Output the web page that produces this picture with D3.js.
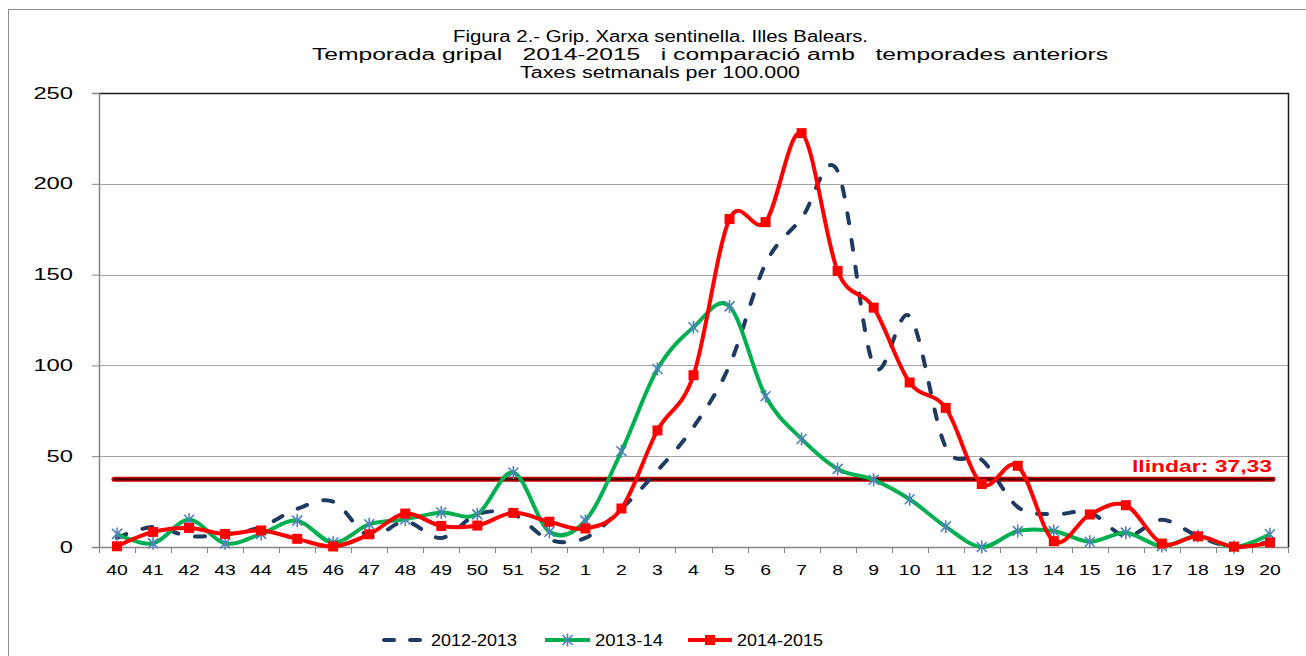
<!DOCTYPE html>
<html>
<head>
<meta charset="utf-8">
<script src="https://cdn.jsdelivr.net/npm/d3@7/dist/d3.min.js"></script>
<style>
  html, body { margin: 0; padding: 0; background: #fff; }
  svg { display: block; font-family: "Liberation Sans", Arial, sans-serif; }
</style>
</head>
<body>
<svg id="chart" width="1306" height="656"></svg>
<script>
// setmanes epidemiològiques (eix X)
const weeks = ["40","41","42","43","44","45","46","47","48","49","50","51","52",
  "1","2","3","4","5","6","7","8","9","10","11","12","13","14","15","16","17","18","19","20"];

// taxes setmanals per 100.000, llegides del gràfic
const season1213 = [5, 11, 6, 7, 11, 21, 25, 6, 14, 5, 18, 18, 4,
  5, 21, 42, 66, 100, 156, 181, 207, 100, 127, 55, 48, 22, 18, 19, 6, 15, 6, 0, 3];
const season1314 = [7.2, 2, 15, 2, 7.2, 14.5, 2.4, 12.5, 15.2, 19, 18, 41, 8.4,
  14.5, 52.7, 98, 121, 132.5, 83, 59.5, 43, 37, 26.3, 11.2, 0, 8.8, 8.8, 2.9, 7.9, 0.5, 6, 0, 7];
const season1415 = [0.4, 8.3, 10.5, 7.2, 9.1, 4.5, 0.3, 7, 18.4, 11.6, 11.8, 18.8, 13.9,
  10.2, 21.2, 64.2, 94.6, 180.6, 178.9, 227.9, 152, 131.8, 90.6, 76.6, 34.7, 44.7, 3.2, 17.9, 23, 1.9, 5.9, 0.2, 2.5];

const threshold = 37.33;
const yTicks = [0, 50, 100, 150, 200, 250];

const titleLines = [
  { text: "Figura 2.- Grip. Xarxa sentinella. Illes Balears.", x: 453, y: 42, w: 415 },
  { text: "Temporada gripal   2014-2015   i comparació amb   temporades anteriors", x: 312, y: 60, w: 796 },
  { text: "Taxes setmanals per 100.000", x: 520, y: 78, w: 280 }
];

const svg = d3.select("#chart");
const plot = { left: 99, right: 1288, top: 93, bottom: 547 };

const x = d3.scaleBand().domain(weeks).range([plot.left, plot.right]).padding(0);
const y = d3.scaleLinear().domain([0, 250]).range([plot.bottom, plot.top]);
const cx = d => x(d) + x.bandwidth() / 2;

// el text de l'original és més ample del normal
const wideDigits = (t, per) => t.length * per;

// marc exterior
svg.append("rect")
  .attr("x", 8.5).attr("y", 9.5)
  .attr("width", 1320).attr("height", 660)
  .attr("fill", "#fff")
  .attr("stroke", "#8c8c8c")
  .attr("stroke-width", 1);

// títol
svg.append("g").selectAll("text")
  .data(titleLines)
  .join("text")
  .attr("x", d => d.x)
  .attr("y", d => d.y)
  .attr("textLength", d => d.w)
  .attr("lengthAdjust", "spacingAndGlyphs")
  .style("white-space", "pre")
  .style("font-size", "16px")
  .attr("fill", "#000")
  .text(d => d.text);

// línies de graella
svg.append("g")
  .selectAll("line")
  .data(yTicks.filter(v => v > 0 && v < 250))
  .join("line")
  .attr("x1", plot.left).attr("x2", plot.right)
  .attr("y1", d => Math.round(y(d)) + 0.5).attr("y2", d => Math.round(y(d)) + 0.5)
  .attr("stroke", "#a6a6a6")
  .attr("stroke-width", 1);

// vora superior i dreta
svg.append("path")
  .attr("d", `M${plot.left},${plot.top + 0.5} H${plot.right + 0.5} V${plot.bottom + 1}`)
  .attr("fill", "none")
  .attr("stroke", "#1a1a1a")
  .attr("stroke-width", 1.5);

// eix Y
const yAxis = svg.append("g")
  .attr("transform", `translate(${plot.left},0)`)
  .call(d3.axisLeft(y).tickValues(yTicks).tickSize(7).tickPadding(19));
yAxis.select(".domain").attr("stroke", "#868686").attr("stroke-width", 1.5);
yAxis.selectAll(".tick line").attr("stroke", "#868686");
yAxis.selectAll(".tick text")
  .style("font-size", "16px")
  .style("font-family", "'Liberation Sans', Arial, sans-serif")
  .attr("textLength", d => wideDigits(String(d), 13.2))
  .attr("lengthAdjust", "spacingAndGlyphs")
  .attr("fill", "#000");

// eix X (marques entre categories)
const xAxisG = svg.append("g");
xAxisG.append("line")
  .attr("x1", plot.left).attr("x2", plot.right)
  .attr("y1", plot.bottom + 0.5).attr("y2", plot.bottom + 0.5)
  .attr("stroke", "#868686").attr("stroke-width", 1.5);
xAxisG.selectAll("line.tk")
  .data(weeks.concat(["end"]))
  .join("line")
  .attr("class", "tk")
  .attr("x1", (d, i) => Math.round(plot.left + i * x.bandwidth()) + 0.5)
  .attr("x2", (d, i) => Math.round(plot.left + i * x.bandwidth()) + 0.5)
  .attr("y1", plot.bottom).attr("y2", plot.bottom + 6)
  .attr("stroke", "#868686");
xAxisG.selectAll("text")
  .data(weeks)
  .join("text")
  .attr("x", d => cx(d))
  .attr("y", 575)
  .attr("text-anchor", "middle")
  .attr("textLength", d => wideDigits(d, 10.8))
  .attr("lengthAdjust", "spacingAndGlyphs")
  .style("font-size", "15px")
  .attr("fill", "#000")
  .text(d => d);

// llindar epidèmic
const thY = y(threshold);
svg.append("line")
  .attr("x1", 114).attr("x2", 1273)
  .attr("y1", thY).attr("y2", thY)
  .attr("stroke", "#c00000").attr("stroke-width", 5)
  .attr("stroke-linecap", "round");
svg.append("line")
  .attr("x1", 114).attr("x2", 1273)
  .attr("y1", thY).attr("y2", thY)
  .attr("stroke", "#4a0000").attr("stroke-width", 2);
svg.append("text")
  .attr("x", 1132).attr("y", 472)
  .attr("textLength", 140)
  .attr("lengthAdjust", "spacingAndGlyphs")
  .style("font-size", "17px")
  .style("font-weight", "bold")
  .attr("fill", "#ff0000")
  .text("llindar: 37,33");

// sèries
const line = d3.line()
  .x((d, i) => cx(weeks[i]))
  .y(d => y(d))
  .curve(d3.curveCardinal.tension(0));

const series = [
  { name: "2012-2013", values: season1213, color: "#1f3a60", dash: "10 17", marker: null },
  { name: "2013-14", values: season1314, color: "#00b050", dash: null, marker: "star" },
  { name: "2014-2015", values: season1415, color: "#ff0000", dash: null, marker: "square" }
];

const starPath = s => `M${-s},${-s}L${s},${s}M${-s},${s}L${s},${-s}M0,${-s * 1.3}L0,${s * 1.3}`;

function drawMarker(g, type) {
  if (type === "star") {
    g.append("path")
      .attr("d", starPath(5))
      .attr("stroke", "#4f81bd")
      .attr("stroke-width", 1.6)
      .attr("fill", "none");
  } else if (type === "square") {
    g.append("rect")
      .attr("x", -5).attr("y", -5)
      .attr("width", 10).attr("height", 10)
      .attr("fill", "#ff0000");
  }
}

series.forEach(s => {
  svg.append("path")
    .datum(s.values)
    .attr("d", line)
    .attr("fill", "none")
    .attr("stroke", s.color)
    .attr("stroke-width", 4)
    .attr("stroke-linecap", s.dash ? "round" : "butt")
    .attr("stroke-linejoin", "round")
    .attr("stroke-dasharray", s.dash);
  if (s.marker) {
    svg.append("g").selectAll("g")
      .data(s.values)
      .join("g")
      .attr("transform", (d, i) => `translate(${cx(weeks[i])},${y(d)})`)
      .each(function() { drawMarker(d3.select(this), s.marker); });
  }
});

// llegenda
const legendItems = [
  { s: series[0], x1: 382, x2: 422, tx: 431, tw: 86 },
  { s: series[1], x1: 545, x2: 590, tx: 595, tw: 68 },
  { s: series[2], x1: 688, x2: 732, tx: 737, tw: 86 }
];
const legendY = 640;
const lg = svg.append("g");
legendItems.forEach(it => {
  lg.append("line")
    .attr("x1", it.x1 + (it.s.dash ? 2 : 0)).attr("x2", it.x2 - (it.s.dash ? 2 : 0))
    .attr("y1", legendY).attr("y2", legendY)
    .attr("stroke", it.s.color)
    .attr("stroke-width", 4)
    .attr("stroke-linecap", it.s.dash ? "round" : "butt")
    .attr("stroke-dasharray", it.s.dash ? "10 16" : null);
  if (it.s.marker) {
    const m = lg.append("g").attr("transform", `translate(${(it.x1 + it.x2) / 2},${legendY})`);
    drawMarker(m, it.s.marker);
  }
  lg.append("text")
    .attr("x", it.tx).attr("y", legendY + 6)
    .attr("textLength", it.tw)
    .attr("lengthAdjust", "spacingAndGlyphs")
    .style("font-size", "17px")
    .attr("fill", "#000")
    .text(it.s.name);
});
</script>
</body>
</html>
